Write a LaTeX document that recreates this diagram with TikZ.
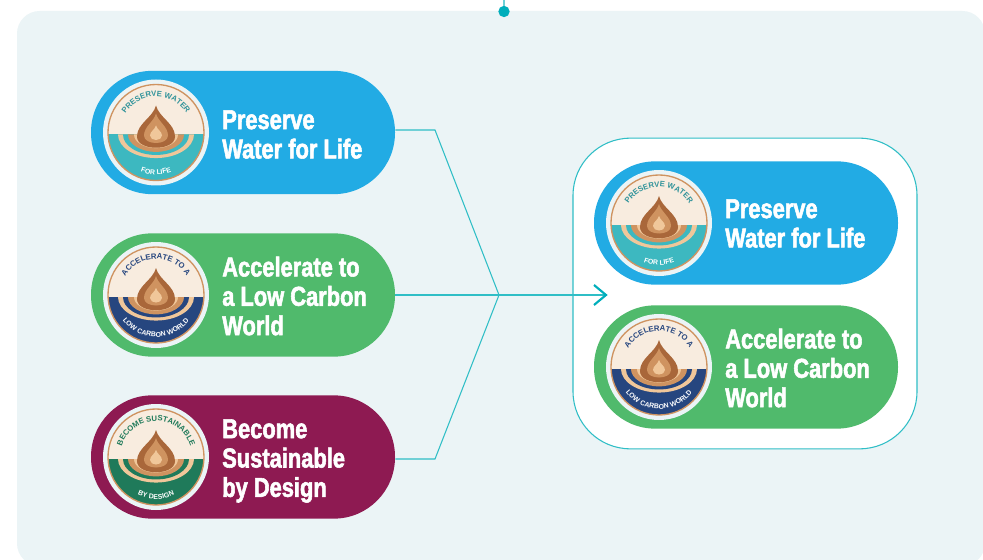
\documentclass[tikz,border=0pt]{standalone}
\usepackage{fontspec}
\setmainfont{Liberation Sans}
\newfontfamily\pillfont[FakeStretch=0.8,BoldFeatures={FakeStretch=0.8,FakeBold=2}]{Liberation Sans}
\usetikzlibrary{decorations.text,arrows.meta}
\definecolor{panel}{HTML}{EBF4F6}
\definecolor{teal}{HTML}{2FBEC6}
\definecolor{dot}{HTML}{00AEBB}
\definecolor{pblue}{HTML}{22ABE4}
\definecolor{pgreen}{HTML}{50BA6C}
\definecolor{pmaroon}{HTML}{8E1A52}
\definecolor{cream}{HTML}{F8ECDF}
\definecolor{copper}{HTML}{CF9360}
\definecolor{copperd}{HTML}{A9673A}
\definecolor{copperl}{HTML}{F0C79A}
\definecolor{bwater}{HTML}{3DB8C0}
\definecolor{bnavy}{HTML}{26467F}
\definecolor{bgreen}{HTML}{1F7A5A}
\tikzset{
  pill/.style={rectangle,rounded corners=46pt,minimum width=228pt,minimum height=92.5pt,inner sep=0pt},
  pilltext/.style={anchor=west,align=left,text=white,inner sep=0pt,font=\pillfont\bfseries\fontsize{20.5pt}{22pt}\selectfont},
  link/.style={draw=teal,line width=.8pt},
}
% #1 x, #2 y, #3 band colour, #4 top text colour, #5 top text, #6 bottom text
\newcommand{\waterbadge}[6]{%
\begin{scope}[shift={(#1,#2)},y=.75pt]
  \fill[panel] (0,0) circle[radius=53];
  \fill[cream] (0,0) circle[radius=48];
  \begin{scope}
    \clip (0,0) circle[radius=48];
    \fill[#3] (-50,-2) rectangle (50,-50);
    \foreach \r/\c in {38/copperl,33/#3,28/copper,22/copperl,16/copper}{
      \fill[\c] (-\r,-2) arc[start angle=180,end angle=360,x radius=\r,y radius=\r*.62] -- cycle;
    }
  \end{scope}
  \draw[copper,line width=1pt] (0,0) circle[radius=48];
  \fill[copperd] (0,27) .. controls (3,15) and (19,9) .. (19,-4) .. controls (19,-19) and (-19,-19) .. (-19,-4) .. controls (-19,9) and (-3,15) .. (0,27) -- cycle;
  \fill[copper] (0,19) .. controls (2,11) and (12,6) .. (12,-3) .. controls (12,-13) and (-12,-13) .. (-12,-3) .. controls (-12,6) and (-2,11) .. (0,19) -- cycle;
  \fill[copperl] (0,7) .. controls (1,3) and (6,1) .. (6,-3) .. controls (6,-9) and (-6,-9) .. (-6,-3) .. controls (-6,1) and (-1,3) .. (0,7) -- cycle;
  \path[decorate,decoration={text along path,text align=center,text={|\fontsize{5.8pt}{6pt}\selectfont\bfseries\color{#4}|#5}}]
    (170:36) arc[start angle=170,end angle=10,radius=36];
  \path[decorate,decoration={text along path,text align=center,text={|\fontsize{5.2pt}{6pt}\selectfont\bfseries\color{white}|#6}}]
    (200:42) arc[start angle=200,end angle=340,radius=42];
\end{scope}}
\begin{document}
\begin{tikzpicture}[x=.75pt,y=-.75pt]
\useasboundingbox (0,0) rectangle (983,560);
\fill[white] (0,0) rectangle (983,560);
\fill[panel,rounded corners=17pt] (17,11) rectangle (985,566);
\coordinate (topend) at (504,0);
\node[circle,fill=dot,minimum size=8.5pt,inner sep=0pt] (topdot) at (504,11.5) {};
\draw[draw=teal!70,line width=.8pt] (topend) -- (topdot);
% result frame
\node[rectangle,draw=teal,fill=white,line width=.8pt,rounded corners=43pt,minimum width=258pt,minimum height=233pt,inner sep=0pt] (frame) at (745,293.5) {};
% pills
\node[pill,fill=pblue] (p1) at (243,132.5) {};
\node[pill,fill=pgreen] (p2) at (243,295) {};
\node[pill,fill=pmaroon] (p3) at (243,457) {};
\node[pill,fill=pblue] (r1) at (746,223) {};
\node[pill,fill=pgreen] (r2) at (746,367) {};
% badges
\waterbadge{156}{132.5}{bwater}{bwater!80!black}{PRESERVE WATER}{FOR LIFE}
\waterbadge{156}{295}{bnavy}{bnavy}{ACCELERATE TO A}{LOW CARBON WORLD}
\waterbadge{156}{457}{bgreen}{bgreen}{BECOME SUSTAINABLE}{BY DESIGN}
\waterbadge{659}{223}{bwater}{bwater!80!black}{PRESERVE WATER}{FOR LIFE}
\waterbadge{659}{367}{bnavy}{bnavy}{ACCELERATE TO A}{LOW CARBON WORLD}
% labels
\node[pilltext] (t1) at (222,134.5) {Preserve\\Water for Life};
\node[pilltext] (t2) at (222,296) {Accelerate to\\a Low Carbon\\World};
\node[pilltext] (t3) at (222,461) {Become\\Sustainable\\by Design};
\node[pilltext] (t4) at (725,223.5) {Preserve\\Water for Life};
\node[pilltext] (t5) at (725,368) {Accelerate to\\a Low Carbon\\World};
% connectors
\coordinate (join) at (499,295);
\coordinate (bend1) at (435,130);
\coordinate (bend3) at (435,459);
\coordinate (tip) at (606,295);
\coordinate (chevA) at (594,285);
\coordinate (chevB) at (594,305);
\draw[link] (p1.east |- bend1) -- (bend1) -- (join);
\draw[link] (p3.east |- bend3) -- (bend3) -- (join);
\draw[link] (p2.east) -- (join) -- (tip);
\draw[draw=dot,line width=1.6pt] (chevA) -- (tip) -- (chevB);
\end{tikzpicture}
\end{document}
